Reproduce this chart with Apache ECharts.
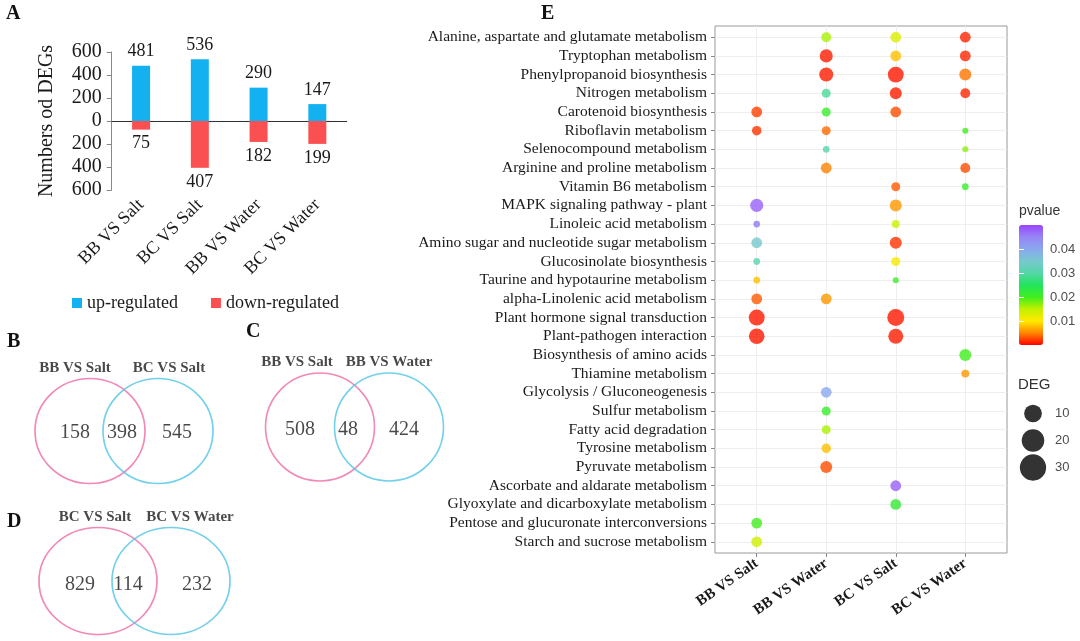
<!DOCTYPE html>
<html><head><meta charset="utf-8">
<script src="https://cdn.jsdelivr.net/npm/echarts@6/dist/echarts.min.js"></script>
<style>html,body{margin:0;padding:0;background:#fff}#c{width:1080px;height:641px}</style>
</head><body><div id="c"></div>
<script>
// ---------- DATA ----------
const barCategories = ['BB VS Salt', 'BC VS Salt', 'BB VS Water', 'BC VS Water'];
const upRegulated = [481, 536, 290, 147];
const downRegulated = [75, 407, 182, 199];

const vennBSets = ['BB VS Salt', 'BC VS Salt'];
const vennBCounts = [158, 398, 545];
const vennCSets = ['BB VS Salt', 'BB VS Water'];
const vennCCounts = [508, 48, 424];
const vennDSets = ['BC VS Salt', 'BC VS Water'];
const vennDCounts = [829, 114, 232];

const comparisons = ['BB VS Salt', 'BB VS Water', 'BC VS Salt', 'BC VS Water'];
const pathways = [
  'Alanine, aspartate and glutamate metabolism', 'Tryptophan metabolism', 'Phenylpropanoid biosynthesis',
  'Nitrogen metabolism', 'Carotenoid biosynthesis', 'Riboflavin metabolism', 'Selenocompound metabolism',
  'Arginine and proline metabolism', 'Vitamin B6 metabolism', 'MAPK signaling pathway - plant',
  'Linoleic acid metabolism', 'Amino sugar and nucleotide sugar metabolism', 'Glucosinolate biosynthesis',
  'Taurine and hypotaurine metabolism', 'alpha-Linolenic acid metabolism', 'Plant hormone signal transduction',
  'Plant-pathogen interaction', 'Biosynthesis of amino acids', 'Thiamine metabolism',
  'Glycolysis / Gluconeogenesis', 'Sulfur metabolism', 'Fatty acid degradation', 'Tyrosine metabolism',
  'Pyruvate metabolism', 'Ascorbate and aldarate metabolism', 'Glyoxylate and dicarboxylate metabolism',
  'Pentose and glucuronate interconversions', 'Starch and sucrose metabolism'
];
// [comparison index, pathway index, pvalue, DEG]
const enrichment = [
  [1, 0, 0.016, 11], [2, 0, 0.013, 13], [3, 0, 0.0015, 13],
  [1, 1, 0.0012, 19], [2, 1, 0.008, 13], [3, 1, 0.0015, 13],
  [1, 2, 0.0012, 22], [2, 2, 0.0010, 28], [3, 2, 0.0045, 16],
  [1, 3, 0.029, 9], [2, 3, 0.0012, 16], [3, 3, 0.0015, 11],
  [0, 4, 0.0025, 13], [1, 4, 0.021, 9], [2, 4, 0.003, 13],
  [0, 5, 0.002, 10], [1, 5, 0.004, 9], [3, 5, 0.020, 4],
  [1, 6, 0.030, 5], [3, 6, 0.017, 4],
  [1, 7, 0.005, 13], [3, 7, 0.003, 11],
  [2, 8, 0.0035, 9], [3, 8, 0.021, 5],
  [0, 9, 0.048, 19], [2, 9, 0.006, 16],
  [0, 10, 0.046, 5], [2, 10, 0.014, 7],
  [0, 11, 0.035, 13], [2, 11, 0.002, 16],
  [0, 12, 0.031, 5], [2, 12, 0.011, 9],
  [0, 13, 0.008, 5], [2, 13, 0.021, 4],
  [0, 14, 0.0035, 13], [1, 14, 0.006, 13],
  [0, 15, 0.0010, 28], [2, 15, 0.0010, 32],
  [0, 16, 0.0010, 27], [2, 16, 0.0012, 25],
  [3, 17, 0.020, 16],
  [3, 18, 0.006, 7],
  [1, 19, 0.040, 13],
  [1, 20, 0.021, 9],
  [1, 21, 0.016, 9],
  [1, 22, 0.008, 10],
  [1, 23, 0.003, 16],
  [2, 24, 0.048, 13],
  [2, 25, 0.022, 13],
  [0, 26, 0.020, 13],
  [0, 27, 0.014, 13]
];
const pvalueTicks = [0.01, 0.02, 0.03, 0.04];
const degLegend = [10, 20, 30];

// ---------- STYLE ----------
const SERIF = '"Liberation Serif","Times New Roman",serif';
const SANS = '"Liberation Sans",Arial,sans-serif';
const BLUE = '#13b1ef', RED = '#fa5052', PINK = '#ef6aa4', CYAN = '#4fc4e6';
const pColors = ['#ff0000', '#ff8500', '#ffea00', '#c2f000', '#3fee1e', '#22e45e', '#55d6a8', '#78c8cf', '#8aa8ee', '#9585f6', '#9b45ff'];
const dotSize = v => 3 * Math.sqrt(v[3]);
const legendSize = v => 6 + 3.7 * Math.sqrt(v);

const vennLayouts = {
  B: {grid: {left: 20, top: 352, width: 230, height: 140}, circles: [[70, 79], [138, 79]], size: [110, 105], counts: [[55, 81], [102, 81], [157, 81]], titles: [[55, 16], [149, 16]]},
  C: {grid: {left: 250, top: 345, width: 220, height: 140}, circles: [[70, 82], [139, 82]], size: [109, 108], counts: [[50, 85], [98, 85], [154, 85]], titles: [[47, 17], [139, 17]]},
  D: {grid: {left: 20, top: 500, width: 230, height: 140}, circles: [[78, 81], [151, 81]], size: [118, 107], counts: [[60, 85], [108, 85], [177, 85]], titles: [[75, 17], [170, 17]]}
};

const grids = [], xAxes = [], yAxes = [], series = [];

// ---------- PANEL A ----------
grids.push({left: 111.7, top: 52, width: 235, height: 138});
xAxes.push({gridIndex: 0, type: 'category', data: barCategories, axisLine: {onZero: true, lineStyle: {color: '#333', width: 1}}, axisTick: {show: false}, axisLabel: {show: false}});
xAxes.push({gridIndex: 0, type: 'category', data: barCategories, position: 'bottom', axisLine: {show: false, onZero: false}, axisTick: {show: false},
  axisLabel: {rotate: 45, margin: 12, fontFamily: SERIF, fontSize: 18, color: '#1a1a1a', interval: 0}});
yAxes.push({gridIndex: 0, type: 'value', min: -600, max: 600, interval: 200,
  name: 'Numbers od DEGs', nameLocation: 'middle', nameRotate: 90, nameGap: 55, nameTextStyle: {fontFamily: SERIF, fontSize: 20, color: '#1a1a1a'},
  axisLine: {show: true, lineStyle: {color: '#888'}}, axisTick: {show: true, length: 5, lineStyle: {color: '#888'}},
  splitLine: {show: false}, axisLabel: {margin: 10, fontFamily: SERIF, fontSize: 20, color: '#1a1a1a', formatter: v => Math.abs(v)}});
series.push({name: 'up-regulated', type: 'bar', xAxisIndex: 0, yAxisIndex: 0, data: upRegulated, barWidth: 18, barGap: '-100%',
  itemStyle: {color: BLUE}, label: {show: true, position: 'top', distance: 5, fontFamily: SERIF, fontSize: 18, color: '#1a1a1a'}});
series.push({name: 'down-regulated', type: 'bar', xAxisIndex: 0, yAxisIndex: 0, data: downRegulated.map(v => -v), barWidth: 18, barGap: '-100%',
  itemStyle: {color: RED}, label: {show: true, position: 'bottom', distance: 5, fontFamily: SERIF, fontSize: 18, color: '#1a1a1a', formatter: p => Math.abs(p.value)}});

// ---------- VENNS ----------
function addVenn(key, sets, counts) {
  const L = vennLayouts[key];
  const gi = grids.length;
  grids.push(Object.assign({show: false}, L.grid));
  const xi = xAxes.length, yi = yAxes.length;
  xAxes.push({gridIndex: gi, type: 'value', min: 0, max: L.grid.width, show: false});
  yAxes.push({gridIndex: gi, type: 'value', min: 0, max: L.grid.height, inverse: true, show: false});
  series.push({type: 'scatter', xAxisIndex: xi, yAxisIndex: yi, silent: true, clip: false, symbol: 'circle', symbolSize: L.size, z: 3,
    data: L.circles.map((c, i) => ({value: c, itemStyle: {color: 'rgba(0,0,0,0)', borderColor: i === 0 ? PINK : CYAN, borderWidth: 1.6}}))});
  series.push({type: 'scatter', xAxisIndex: xi, yAxisIndex: yi, silent: true, clip: false, symbolSize: 1, itemStyle: {color: 'rgba(0,0,0,0)'}, z: 4,
    data: counts.map((c, i) => L.counts[i]),
    label: {show: true, position: 'inside', formatter: p => counts[p.dataIndex], fontFamily: SERIF, fontSize: 20, color: '#1a1a1a'}});
  series.push({type: 'scatter', xAxisIndex: xi, yAxisIndex: yi, silent: true, clip: false, symbolSize: 1, itemStyle: {color: 'rgba(0,0,0,0)'}, z: 4,
    data: sets.map((s, i) => L.titles[i]),
    label: {show: true, position: 'inside', formatter: p => sets[p.dataIndex], fontFamily: SERIF, fontSize: 15, fontWeight: 'bold', color: '#1a1a1a'}});
}
addVenn('B', vennBSets, vennBCounts);
addVenn('C', vennCSets, vennCCounts);
addVenn('D', vennDSets, vennDCounts);

// ---------- PANEL E ----------
const gE = grids.length;
grids.push({left: 715, right: 73, top: 26, bottom: 88, show: true, borderColor: '#9a9a9a', borderWidth: 1, backgroundColor: '#fff'});
const xE = xAxes.length, yE = yAxes.length;
xAxes.push({gridIndex: gE, type: 'value', min: 0.4, max: 4.6, axisLine: {show: false},
  axisTick: {show: true, length: 4, customValues: [1, 2, 3, 4], lineStyle: {color: '#888'}},
  splitLine: {show: true, lineStyle: {color: '#eeeeee'}},
  axisLabel: {customValues: [1, 2, 3, 4], rotate: 35, margin: 9, fontFamily: SERIF, fontWeight: 'bold', fontSize: 15, color: '#1a1a1a', formatter: v => comparisons[Math.round(v) - 1]}});
const rowVals = pathways.map((p, i) => i + 1);
yAxes.push({gridIndex: gE, type: 'value', min: 0.4, max: 28.6, inverse: true, axisLine: {show: false},
  axisTick: {show: true, length: 4, customValues: rowVals, lineStyle: {color: '#888'}},
  splitLine: {show: true, lineStyle: {color: '#eeeeee'}},
  axisLabel: {customValues: rowVals, margin: 8, fontFamily: SERIF, fontSize: 15.5, color: '#1a1a1a', formatter: v => pathways[Math.round(v) - 1]}});
const enrichSeriesIndex = series.length;
series.push({type: 'scatter', xAxisIndex: xE, yAxisIndex: yE, symbolSize: dotSize, z: 5,
  data: enrichment.map(d => [d[0] + 1, d[1] + 1, d[2], d[3]])});

// colorbar label axis
const gC = grids.length;
grids.push({left: 1019, top: 225, width: 24, height: 120, show: false});
xAxes.push({gridIndex: gC, type: 'value', show: false});
yAxes.push({gridIndex: gC, type: 'value', min: 0.0001, max: 0.0501, position: 'right', z: 10, axisLine: {show: false}, splitLine: {show: false},
  axisTick: {show: true, inside: true, length: 5, customValues: pvalueTicks, lineStyle: {color: '#fff', width: 1}},
  axisLabel: {customValues: pvalueTicks, margin: 7, fontFamily: SANS, fontSize: 13, color: '#4d4d4d', formatter: v => v.toFixed(2)}});
yAxes.push({gridIndex: gC, type: 'value', min: 0.0001, max: 0.0501, position: 'left', z: 10, axisLine: {show: false}, splitLine: {show: false},
  axisTick: {show: true, inside: true, length: 5, customValues: pvalueTicks, lineStyle: {color: '#fff', width: 1}},
  axisLabel: {show: false}});

// size legend
const gS = grids.length;
grids.push({left: 1020, top: 400, width: 26, height: 81, show: false});
const xS = xAxes.length, yS = yAxes.length;
xAxes.push({gridIndex: gS, type: 'value', min: 0, max: 2, show: false});
yAxes.push({gridIndex: gS, type: 'category', inverse: true, data: degLegend.map(String), position: 'right', axisLine: {show: false}, axisTick: {show: false},
  axisLabel: {margin: 9, fontFamily: SANS, fontSize: 13, color: '#4d4d4d'}});
series.push({type: 'scatter', xAxisIndex: xS, yAxisIndex: yS, silent: true, clip: false, itemStyle: {color: '#000'},
  symbolSize: v => legendSize(degLegend[v[1]]), data: degLegend.map((v, i) => [1, i])});

const titleStyle = {fontFamily: SERIF, fontSize: 20, fontWeight: 'bold', color: '#111'};
const option = {
  animation: false,
  backgroundColor: '#fff',
  title: [
    {text: 'A', left: 6, top: 4, padding: 0, textStyle: titleStyle},
    {text: 'B', left: 7, top: 332, padding: 0, textStyle: titleStyle},
    {text: 'C', left: 246, top: 322, padding: 0, textStyle: titleStyle},
    {text: 'D', left: 7, top: 512, padding: 0, textStyle: titleStyle},
    {text: 'E', left: 541, top: 4, padding: 0, textStyle: titleStyle},
    {text: 'pvalue', left: 1019, top: 204, padding: 0, textStyle: {fontFamily: SANS, fontSize: 14, fontWeight: 'normal', color: '#333'}},
    {text: 'DEG', left: 1018, top: 377, padding: 0, textStyle: {fontFamily: SANS, fontSize: 15, fontWeight: 'normal', color: '#333'}}
  ],
  legend: {data: ['up-regulated', 'down-regulated'], left: 72, top: 294, icon: 'rect', itemWidth: 10, itemHeight: 10, itemGap: 33, padding: 0,
    textStyle: {fontFamily: SERIF, fontSize: 18, color: '#1a1a1a'}},
  visualMap: [{type: 'continuous', seriesIndex: enrichSeriesIndex, dimension: 2, min: 0.0001, max: 0.0501, calculable: false,
    left: 1019, top: 225, itemWidth: 24, itemHeight: 120, padding: 0, text: ['', ''], showLabel: false, inRange: {color: pColors}}],
  grid: grids, xAxis: xAxes, yAxis: yAxes, series: series
};
const chart = echarts.init(document.getElementById('c'));
chart.setOption(option);
</script></body></html>
